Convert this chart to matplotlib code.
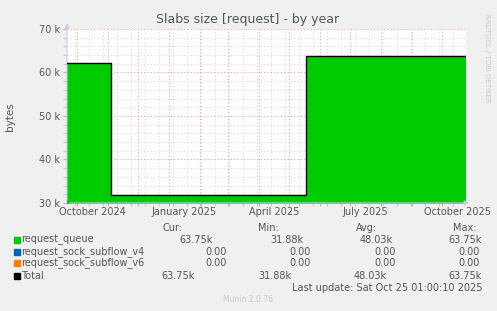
#!/usr/bin/env python3
import matplotlib
matplotlib.use('Agg')
import matplotlib.pyplot as plt
import matplotlib.dates as mdates
import numpy as np
import pandas as pd

# data: value changes (step series), values in bytes
change_dates = pd.to_datetime(['2024-09-21', '2024-11-04', '2025-05-18', '2025-10-25'])
queue_values = [62250, 31880, 63750, 63750]
subflow_v4_values = [0, 0, 0, 0]
subflow_v6_values = [0, 0, 0, 0]

series_names = ['request_queue', 'request_sock_subflow_v4', 'request_sock_subflow_v6', 'Total']
series_colors = ['#00CC00', '#0066B3', '#FF8000', '#000000']
cur_vals = ['63.75k', '0.00', '0.00', '63.75k']
min_vals = ['31.88k', '0.00', '0.00', '31.88k']
avg_vals = ['48.03k', '0.00', '0.00', '48.03k']
max_vals = ['63.75k', '0.00', '0.00', '63.75k']

x_start = pd.Timestamp('2024-09-21')
x_end = pd.Timestamp('2025-10-25')
label_months = ['2024-10-16', '2025-01-16', '2025-04-16', '2025-07-16', '2025-10-16']
label_texts = ['October 2024', 'January 2025', 'April 2025', 'July 2025', 'October 2025']

W, H = 497, 311
txt = '#555555'
fig = plt.figure(figsize=(W / 100, H / 100), dpi=100, facecolor='#F0F0F0')
ax = fig.add_axes([67 / W, (H - 203) / H, 399 / W, 174 / H])
ax.set_facecolor('white')

x = mdates.date2num(change_dates)
q = np.array(queue_values, dtype=float)
v4 = np.array(subflow_v4_values, dtype=float)
v6 = np.array(subflow_v6_values, dtype=float)
total = q + v4 + v6

ax.fill_between(x, 0, q, step='post', color='#00CC00', lw=0, zorder=2)
ax.fill_between(x, q, q + v4, step='post', color='#0066B3', lw=0, zorder=2)
ax.fill_between(x, q + v4, total, step='post', color='#FF8000', lw=0, zorder=2)
ax.plot(x, total, drawstyle='steps-post', color='black', lw=1, zorder=4)

ax.set_xlim(mdates.date2num(x_start), mdates.date2num(x_end))
ax.set_ylim(30000, 70000)

# grid
ax.set_yticks(np.arange(30000, 70001, 10000))
ax.set_yticks(np.arange(30000, 70001, 2000), minor=True)
months = pd.date_range('2024-10-01', '2025-10-01', freq='MS')
ax.set_xticks(mdates.date2num(months))
weeks = pd.date_range('2024-09-29', '2025-10-25', freq='14D')
ax.set_xticks(mdates.date2num(weeks), minor=True)
ax.set_xticklabels([])
ax.set_yticklabels([f'{int(v / 1000)} k' for v in np.arange(30000, 70001, 10000)],
                   fontsize=7, color=txt)
ax.set_axisbelow(True)
ax.grid(which='minor', color='#D8D8D8', linestyle=(0, (1, 2)), lw=0.8)
ax.grid(which='major', color='#F0A0A0', linestyle=(0, (1, 2)), lw=0.8)
ax.tick_params(which='major', axis='both', color='#F0A0A0', length=3, width=0.8, pad=2)
ax.tick_params(which='minor', axis='both', color='#C8C8C8', length=3, width=0.8)
ax.tick_params(axis='x', which='both', direction='inout', length=4)

for s in ax.spines.values():
    s.set_visible(False)
# axis lines with arrows
ax.annotate('', xy=(0, 1.05), xytext=(0, 0), xycoords='axes fraction',
            arrowprops=dict(arrowstyle='-|>', color='#C8CCF0', lw=0.8, mutation_scale=7))
ax.annotate('', xy=(1.015, 0), xytext=(0, 0), xycoords='axes fraction',
            arrowprops=dict(arrowstyle='-|>', color='#C8CCF0', lw=0.8, mutation_scale=7))

for d, t in zip(label_months, label_texts):
    ax.text(mdates.date2num(pd.Timestamp(d)), -0.05, t, transform=ax.get_xaxis_transform(),
            ha='center', va='center', fontsize=7, color=txt)

fig.text(248 / W, 1 - 19 / H, 'Slabs size [request] - by year', ha='center', va='center',
         fontsize=9, color=txt)
fig.text(10 / W, 1 - 117 / H, 'bytes', rotation=90, ha='center', va='center',
         fontsize=7.5, color=txt)
fig.text(487 / W, 1 - 58 / H, 'RRDTOOL / TOBI OETIKER', rotation=270, ha='center',
         va='center', fontsize=5, color='#C8C8C8')

# legend
def px(xp, yp):
    return xp / W, 1 - yp / H

for xr, h in zip([183, 279, 377, 477], ['Cur:', 'Min:', 'Avg:', 'Max:']):
    fig.text(*px(xr, 227.7), h, ha='right', va='center', fontsize=7, color=txt)

rows_y = [240, 251.7, 263, 275.7]
col_right = [
    [213, 303, 393, 482],
    [227, 311, 396, 480],
    [227, 311, 396, 480],
    [195, 291, 387, 482],
]
for i, name in enumerate(series_names):
    yp = rows_y[i]
    fig.patches.append(plt.Rectangle(px(14, yp + 3), 6 / W, 6 / H, transform=fig.transFigure,
                                     color=series_colors[i], figure=fig))
    fig.text(*px(21, yp), name, ha='left', va='center', fontsize=7, color=txt)
    vals = [cur_vals[i], min_vals[i], avg_vals[i], max_vals[i]]
    for xr, v in zip(col_right[i], vals):
        fig.text(*px(xr, yp), v, ha='right', va='center', fontsize=7, color=txt)

fig.text(*px(483, 287.7), 'Last update: Sat Oct 25 01:00:10 2025', ha='right', va='center',
         fontsize=7, color=txt)
fig.text(*px(248, 300), 'Munin 2.0.76', ha='center', va='center', fontsize=5.5, color='#C8C8C8')

fig.savefig('out.png', dpi=100, facecolor=fig.get_facecolor())
